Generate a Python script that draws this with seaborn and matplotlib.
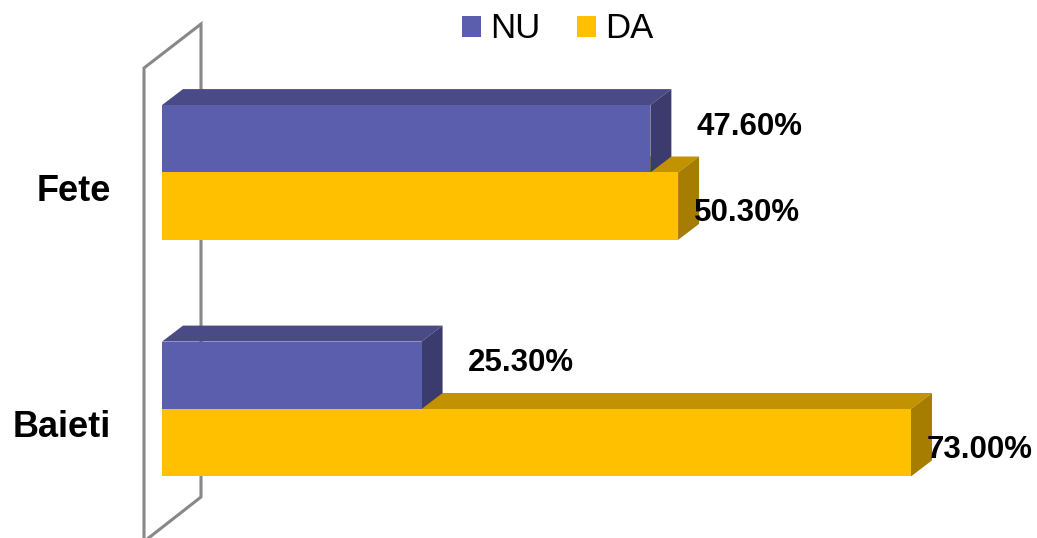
import matplotlib
matplotlib.use('Agg')
import matplotlib.pyplot as plt
import seaborn as sns
import pandas as pd
from matplotlib.patches import Polygon
from matplotlib.lines import Line2D
from matplotlib import transforms

# ---- data ----
groups = ['Fete', 'Baieti']
series = ['NU', 'DA']
nu_values = [47.6, 25.3]
da_values = [50.3, 73.0]
nu_labels = ['47.60%', '25.30%']
da_labels = ['50.30%', '73.00%']

# ---- style ----
W, H, DPI = 1037, 538, 100
front_colors = {'NU': '#5B5EAD', 'DA': '#FFC000'}
top_colors = {'NU': '#4A4A87', 'DA': '#C29200'}
side_colors = {'NU': '#3C3B6D', 'DA': '#A67D00'}
DX, DY = 21, 16          # 3D depth offset in pixels

df = pd.DataFrame({
    'group': groups * 2,
    'series': ['NU'] * len(groups) + ['DA'] * len(groups),
    'value': nu_values + da_values,
})

sns.set_theme(style='white')
plt.rcParams['font.family'] = ['Liberation Sans', 'DejaVu Sans']

fig = plt.figure(figsize=(W / DPI, H / DPI), dpi=DPI)
ax = fig.add_axes([162 / W, 0, 875 / W, 1])
sns.barplot(data=df, x='value', y='group', hue='series', order=groups,
            hue_order=series, palette=front_colors, orient='h', width=0.57,
            saturation=1, ax=ax, zorder=3, linewidth=0)

ax.set_xlim(0, 875 / 10.26)
ax.set_ylim(1.5455, -0.7294)
for s in ax.spines.values():
    s.set_visible(False)
ax.set_xticks([])
ax.set_xlabel('')
ax.set_ylabel('')
ax.tick_params(axis='y', length=0, pad=37, labelsize=26)
shift = transforms.ScaledTranslation(0, -15 / DPI, fig.dpi_scale_trans)
for lab in ax.get_yticklabels():
    lab.set_fontweight('bold')
    lab.set_color('black')
    lab.set_transform(lab.get_transform() + shift)

inv = ax.transData.inverted()

# 3D faces derived from the library's bars
zorders = {'NU': 2.5, 'DA': 2.0}
for name, cont in zip(series, ax.containers):
    for bar in cont:
        bb = bar.get_window_extent()
        x0, x1 = bb.x0, bb.x1
        yb, yt = bb.y0, bb.y1
        top = [(x0, yt), (x1, yt), (x1 + DX, yt + DY), (x0 + DX, yt + DY)]
        side = [(x1, yb), (x1, yt), (x1 + DX, yt + DY), (x1 + DX, yb + DY)]
        ax.add_patch(Polygon(inv.transform(top), closed=True, facecolor=top_colors[name],
                             edgecolor='none', zorder=zorders[name], clip_on=False))
        ax.add_patch(Polygon(inv.transform(side), closed=True, facecolor=side_colors[name],
                             edgecolor='none', zorder=zorders[name], clip_on=False))

# wall (pixel layout, y from top)
wall = [(144, 545), (144, 68), (201, 24), (201, 497), (146, 540)]
pts = inv.transform([(x, H - y) for x, y in wall])
ax.add_line(Line2D(pts[:, 0], pts[:, 1], color='#888888', lw=2.2, zorder=1,
                   clip_on=False, solid_joinstyle='miter'))

# value labels
t_nu = transforms.offset_copy(ax.transData, fig=fig, x=46, y=12, units='dots')
t_da = transforms.offset_copy(ax.transData, fig=fig, x=16, y=-7, units='dots')
for i, g in enumerate(groups):
    ax.text(nu_values[i], i - 0.1425, nu_labels[i], transform=t_nu, ha='left', va='center',
            fontsize=22.5, fontweight='bold', color='black', zorder=5)
    ax.text(da_values[i], i + 0.1425, da_labels[i], transform=t_da, ha='left', va='center',
            fontsize=22.5, fontweight='bold', color='black', zorder=5)

sns.move_legend(ax, 'center', bbox_to_anchor=(557.5 / W, 1 - 29 / H),
                bbox_transform=fig.transFigure, ncol=2, frameon=False, title=None,
                fontsize=25, handlelength=0.55, handleheight=0.55,
                handletextpad=0.26, columnspacing=1.04)
for t in ax.get_legend().get_texts():
    t.set_color('black')

fig.savefig('out.png', dpi=DPI)
